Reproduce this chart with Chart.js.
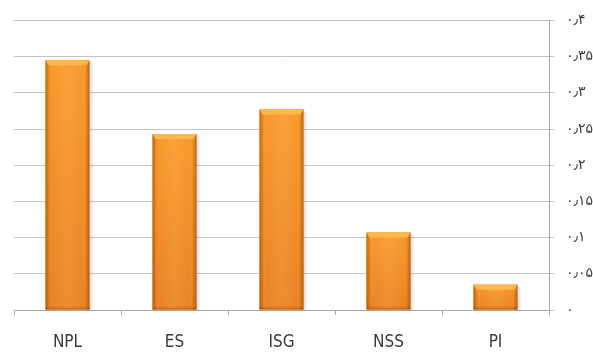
<!DOCTYPE html>
<html>
<head>
<meta charset="utf-8">
<script src="https://cdn.jsdelivr.net/npm/chart.js@4.4.1/dist/chart.umd.min.js"></script>
<style>
  html, body { margin: 0; padding: 0; background: #ffffff; overflow: hidden; }
  #wrap { width: 593px; height: 354px; position: relative; }
</style>
</head>
<body>
<div id="wrap"><canvas id="c" width="593" height="354"></canvas></div>
<script>
// Categories and their values
const categories = ['NPL', 'ES', 'ISG', 'NSS', 'PI'];
const values = [0.345, 0.243, 0.277, 0.107, 0.035];

// Value-axis ticks (Persian numerals)
const tickLabels = ['۰', '۰٫۰۵', '۰٫۱', '۰٫۱۵', '۰٫۲', '۰٫۲۵', '۰٫۳', '۰٫۳۵', '۰٫۴'];
const axisMin = 0;
const axisMax = 0.4;
const axisStep = 0.05;

// Glossy orange shading painted over each bar's own rectangle
const barShade = {
  id: 'barShade',
  afterDatasetsDraw(chart) {
    const ctx = chart.ctx;
    chart.getDatasetMeta(0).data.forEach(bar => {
      const p = bar.getProps(['x', 'y', 'base', 'width'], true);
      const l = p.x - p.width / 2, r = p.x + p.width / 2;
      const t = p.y, b = p.base, w = p.width, h = b - t;
      ctx.save();
      // soft shadow
      ctx.fillStyle = 'rgba(120,120,120,0.18)';
      ctx.fillRect(l + 1, t + 2, w + 2, h - 1);
      // body: bright top, deeper bottom
      const vg = ctx.createLinearGradient(0, t, 0, b);
      vg.addColorStop(0, '#FA9A2A');
      vg.addColorStop(1, '#EA8224');
      ctx.fillStyle = vg;
      ctx.fillRect(l, t, w, h);
      // rounded side edges
      const hg = ctx.createLinearGradient(l, 0, r, 0);
      hg.addColorStop(0, 'rgba(150,70,0,0.6)');
      hg.addColorStop(0.07, 'rgba(150,70,0,0.18)');
      hg.addColorStop(0.15, 'rgba(255,255,255,0)');
      hg.addColorStop(0.5, 'rgba(255,230,180,0.10)');
      hg.addColorStop(0.85, 'rgba(255,255,255,0)');
      hg.addColorStop(0.93, 'rgba(150,70,0,0.18)');
      hg.addColorStop(1, 'rgba(150,70,0,0.6)');
      ctx.fillStyle = hg;
      ctx.fillRect(l, t, w, h);
      // top bevel
      const bv = Math.min(5, h / 2);
      ctx.beginPath();
      ctx.moveTo(l, t);
      ctx.lineTo(r, t);
      ctx.lineTo(r - 3, t + bv);
      ctx.lineTo(l + 3, t + bv);
      ctx.closePath();
      ctx.fillStyle = '#FDB84D';
      ctx.fill();
      // bottom edge
      ctx.fillStyle = 'rgba(140,60,0,0.35)';
      ctx.fillRect(l, b - 2, w, 2);
      ctx.restore();
    });
  }
};

new Chart(document.getElementById('c'), {
  type: 'bar',
  data: {
    labels: categories,
    datasets: [{
      data: values,
      backgroundColor: '#F39128',
      borderWidth: 0,
      categoryPercentage: 1.0,
      barPercentage: 0.41
    }]
  },
  options: {
    responsive: false,
    animation: false,
    devicePixelRatio: 1,
    layout: { padding: { left: 14, top: 11, right: 0, bottom: 0 } },
    plugins: { legend: { display: false }, tooltip: { enabled: false } },
    scales: {
      x: {
        afterFit(scale) { scale.height = 44; },
        grid: {
          offset: true,
          drawOnChartArea: false,
          drawTicks: true,
          tickLength: 5,
          color: '#A8A8A8'
        },
        border: { display: true, color: '#A8A8A8', width: 1 },
        ticks: {
          color: '#3A3A3A',
          padding: 17,
          font: { family: "'DejaVu Sans Condensed', 'DejaVu Sans', sans-serif", size: 17, weight: 'normal condensed' }
        }
      },
      y: {
        position: 'right',
        min: axisMin,
        max: axisMax,
        afterFit(scale) { scale.width = 44; },
        afterBuildTicks(scale) {
          scale.ticks = tickLabels.map((_, i) => ({ value: axisMin + i * axisStep }));
        },
        grid: {
          color: '#C4C4C4',
          tickLength: 5,
          drawTicks: true
        },
        border: { display: true, color: '#A8A8A8', width: 1 },
        ticks: {
          color: '#404040',
          padding: 12,
          callback: (v, i) => tickLabels[i],
          font: { family: "'DejaVu Sans', sans-serif", size: 14 }
        }
      }
    }
  },
  plugins: [barShade]
});
</script>
</body>
</html>
